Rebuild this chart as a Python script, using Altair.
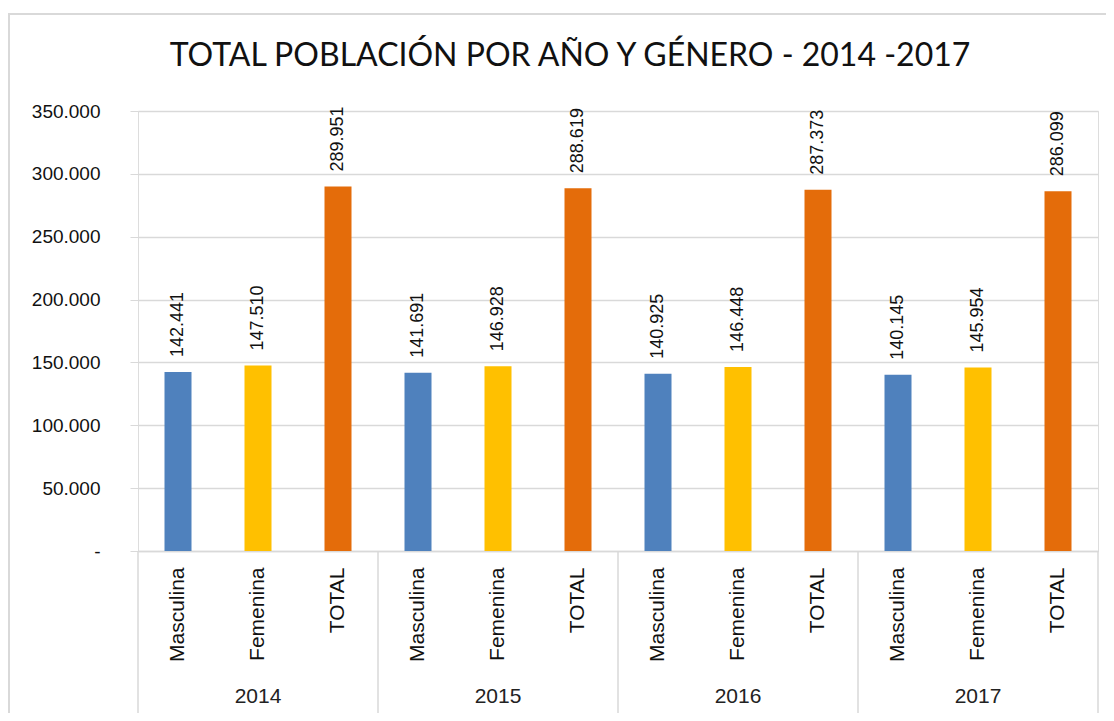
import altair as alt
import pandas as pd

years = ["2014", "2015", "2016", "2017"]
genders = ["Masculina", "Femenina", "TOTAL"]
masculina = [142441, 141691, 140925, 140145]
femenina = [147510, 146928, 146448, 145954]
total = [289951, 288619, 287373, 286099]
colors = ["#4F81BD", "#FFC000", "#E46C0A"]
title_text = "TOTAL POBLACIÓN POR AÑO Y GÉNERO - 2014 -2017"

rows = []
for i, y in enumerate(years):
    for g, v in zip(genders, [masculina[i], femenina[i], total[i]]):
        rows.append({"year": y, "gender": g, "key": f"{y}|{g}", "value": v,
                     "label": f"{v:,}".replace(",", ".")})
df = pd.DataFrame(rows)
keys = list(df["key"])

year_df = pd.DataFrame({"year": years, "mid": [1.5 + 3 * i for i in range(len(years))]})
sep_df = pd.DataFrame({"pos": [3 * i for i in range(len(years) + 1)]})

FONT = "Liberation Sans"
GRID = "#D9D9D9"
W, H = 960, 440

x_enc = alt.X("key:N", sort=keys,
              scale=alt.Scale(paddingInner=0.6625, paddingOuter=0.33125),
              axis=alt.Axis(title=None, labelAngle=270, labelExpr="split(datum.label, '|')[1]",
                            labelFont=FONT, labelFontSize=21, labelColor="#111111",
                            labelPadding=16, ticks=False, domainColor=GRID, domainWidth=1.5))
y_enc = alt.Y("value:Q", scale=alt.Scale(domain=[0, 350000], nice=False),
              axis=alt.Axis(title=None, values=list(range(0, 350001, 50000)),
                            labelExpr="datum.value == 0 ? '-' : replace(format(datum.value, ',d'), ',', '.')",
                            labelFont=FONT, labelFontSize=19, labelColor="#111111",
                            labelPadding=30, tickSize=8, tickColor=GRID, domain=False,
                            grid=True, gridColor=GRID, gridWidth=1.3))

base = alt.Chart(df)
bars = base.mark_bar().encode(
    x=x_enc, y=y_enc,
    color=alt.Color("gender:N", scale=alt.Scale(domain=genders, range=colors), legend=None),
)
labels = base.mark_text(angle=270, align="left", baseline="middle", dx=15,
                        font=FONT, fontSize=18, color="#111111").encode(
    x=alt.X("key:N", sort=keys), y="value:Q", text="label:N")

main = alt.layer(bars, labels)

seps = alt.Chart(sep_df).mark_rule(color=GRID, strokeWidth=1.5).encode(
    x=alt.X("pos:Q", scale=alt.Scale(domain=[0, 12], nice=False, zero=False), axis=None),
    y=alt.value(H), y2=alt.value(H + 170))
year_text = alt.Chart(year_df).mark_text(font=FONT, fontSize=21, color="#222222", baseline="middle").encode(
    x=alt.X("mid:Q", scale=alt.Scale(domain=[0, 12], nice=False, zero=False), axis=None),
    y=alt.value(H + 146), text="year:N")
bottom = alt.layer(seps, year_text)

deco = pd.DataFrame({"t": [title_text]})
frame = alt.Chart(deco).mark_rect(fill="transparent", stroke=GRID, strokeWidth=2).encode(
    x=alt.value(-129), x2=alt.value(972), y=alt.value(-97), y2=alt.value(H + 175))
title = alt.Chart(deco).mark_text(font="Lato", fontSize=32, color="#111111",
                                  align="center", baseline="alphabetic").encode(
    x=alt.value(432), y=alt.value(-45), text="t:N")

chart = alt.layer(frame, title, main, bottom).resolve_scale(x="independent").properties(
    width=W, height=H,
    padding={"left": 130, "top": 103, "right": 8, "bottom": 162},
    autosize=alt.AutoSizeParams(type="none"),
).configure_view(strokeWidth=0, stroke="transparent").configure(background="white")

chart.save("out.html", embed_options={"renderer": "svg", "actions": False})
